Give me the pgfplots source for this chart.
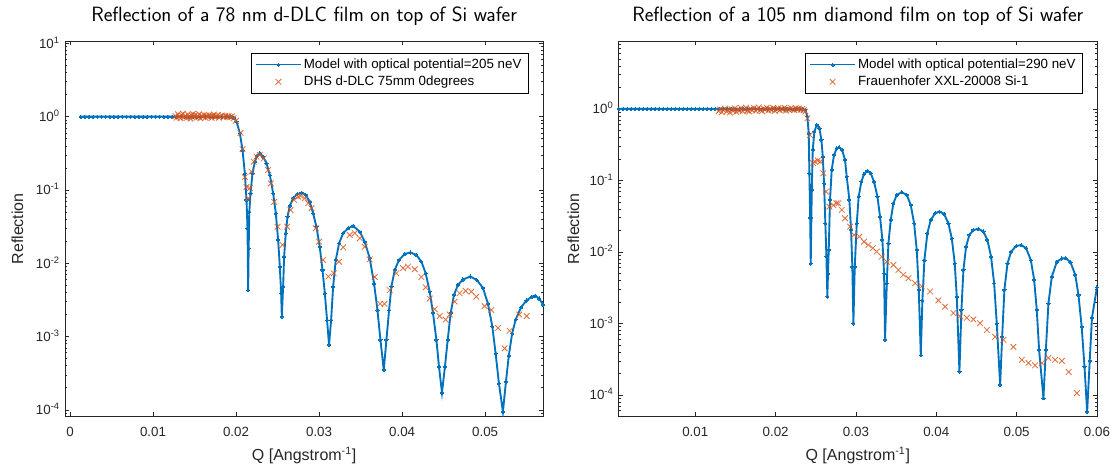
\documentclass[border=0pt]{standalone}
\usepackage{fontspec}
\setmainfont{Liberation Sans}
\usepackage{pgfplots}
\pgfplotsset{compat=1.18}

\definecolor{mblue}{HTML}{0072BD}
\definecolor{morange}{HTML}{D95319}
\definecolor{axgray}{rgb}{0.15,0.15,0.15}

% model curves: left = d-DLC film, right = diamond film
\pgfplotstableread{
x y
0.0013 1
0.0018 1
0.0023 1
0.0028 1
0.0033 1
0.0038 1
0.0043 1
0.0048 1
0.0053 1
0.0058 1
0.0063 1
0.0068 1
0.0073 1
0.0078 1
0.0083 1
0.0088 1
0.0093 1
0.0098 1
0.0103 1
0.0108 1
0.0113 1
0.0118 1
0.0123 1
0.0128 1
0.0133 1
0.0138 1
0.0143 1
0.0148 1
0.0153 1
0.0158 1
0.0163 1
0.0168 1
0.0173 1
0.0178 1
0.0183 1
0.0188 1
0.0193 1
0.01975 0.97
0.02006 0.855
0.02046 0.594
0.02078 0.35
0.02106 0.169
0.02126 0.073
0.02138 0.03
0.02146 0.0043
0.02152 0.016
0.0216 0.05
0.02174 0.09
0.02198 0.169
0.02226 0.243
0.02254 0.294
0.02286 0.317
0.02326 0.285
0.02367 0.231
0.02407 0.160
0.02447 0.090
0.02479 0.048
0.02507 0.0208
0.02527 0.009
0.02543 0.0039
0.02551 0.00187
0.02567 0.0048
0.02579 0.0123
0.02599 0.0257
0.0262 0.0432
0.02647 0.0605
0.02687 0.077
0.02735 0.0873
0.02788 0.092
0.0284 0.0854
0.02888 0.069
0.02928 0.048
0.02968 0.0316
0.03008 0.0168
0.03041 0.0081
0.03069 0.0039
0.03096 0.00168
0.0312 0.00077
0.03145 0.00168
0.03169 0.0048
0.03201 0.0111
0.03241 0.0187
0.0329 0.0257
0.0335 0.030
0.0341 0.0323
0.0349 0.027
0.0355 0.0197
0.0361 0.0117
0.03662 0.0053
0.03703 0.0023
0.03739 0.0009
0.03779 0.00035
0.03811 0.0009
0.03843 0.0023
0.03871 0.0048
0.03911 0.0081
0.03963 0.0111
0.04031 0.0134
0.041 0.014
0.04172 0.013
0.04232 0.0105
0.04284 0.0073
0.04332 0.0041
0.04372 0.0021
0.04413 0.0009
0.04444 0.00039
0.0448 0.000172
0.04516 0.00039
0.04549 0.0009
0.04585 0.0021
0.04625 0.0037
0.04673 0.0051
0.04733 0.006
0.04822 0.0066
0.04901 0.0059
0.04974 0.0046
0.05034 0.0028
0.05087 0.00136
0.05126 0.00059
0.05166 0.00023
0.05214 0.000094
0.0525 0.00024
0.05285 0.00055
0.05325 0.0011
0.05367 0.0017
0.05432 0.0025
0.05497 0.0031
0.05561 0.0035
0.05604 0.0036
0.0565 0.0033
0.0570 0.0027
}\modelDLC

\pgfplotstableread{
x y
0.0127 1.02
0.01285 0.97
0.0130 1.08
0.01315 1.00
0.0133 0.95
0.01345 1.05
0.0136 1.10
0.01375 0.98
0.0139 1.03
0.01405 0.96
0.0142 1.07
0.01435 1.01
0.0145 0.94
0.01465 1.04
0.0148 1.09
0.01495 0.99
0.0151 1.06
0.01525 0.97
0.0154 1.02
0.01555 1.08
0.0157 0.95
0.01585 1.03
0.0160 1.00
0.01615 1.06
0.0163 0.97
0.01645 1.04
0.0166 0.99
0.01675 1.05
0.0169 1.01
0.01705 0.96
0.0172 1.03
0.01735 1.07
0.0175 0.98
0.01765 1.02
0.0178 1.05
0.01795 0.97
0.0181 1.01
0.0183 1.04
0.0185 0.98
0.0187 1.03
0.0189 1.00
0.0191 1.02
0.0193 0.98
0.0195 1.01
0.0197 0.95
0.0200 0.88
0.02054 0.60
0.02078 0.36
0.02106 0.15
0.02126 0.11
0.02146 0.077
0.02166 0.106
0.02186 0.178
0.02214 0.243
0.02246 0.285
0.02286 0.30
0.02334 0.27
0.02386 0.187
0.02419 0.123
0.02459 0.069
0.0250 0.0316
0.0256 0.0178
0.02615 0.0316
0.02656 0.0533
0.02699 0.073
0.02748 0.081
0.02776 0.083
0.02828 0.077
0.02868 0.066
0.02908 0.0563
0.0296 0.030
0.0300 0.0197
0.03047 0.0111
0.03112 0.0066
0.03176 0.0073
0.0324 0.0105
0.0329 0.0165
0.0337 0.0243
0.0343 0.0257
0.0349 0.0220
0.0355 0.0168
0.0361 0.0113
0.0367 0.0065
0.03735 0.0028
0.03787 0.0028
0.03851 0.0043
0.03931 0.0073
0.04011 0.0086
0.04071 0.0090
0.04152 0.0083
0.04232 0.0065
0.04284 0.0047
0.04332 0.0033
0.04392 0.00236
0.04452 0.0019
0.04525 0.0017
0.04573 0.0020
0.04633 0.0030
0.04693 0.0039
0.04765 0.0042
0.04834 0.0041
0.04894 0.0035
0.04994 0.0026
0.05074 0.0023
0.05154 0.00131
0.05235 0.00069
0.05295 0.0012
0.0541 0.0020
0.0550 0.0019
}\dataDLC

\pgfplotstableread{
x y
0.0005 1
0.0010 1
0.0015 1
0.0020 1
0.0025 1
0.0030 1
0.0035 1
0.0040 1
0.0045 1
0.0050 1
0.0055 1
0.0060 1
0.0065 1
0.0070 1
0.0075 1
0.0080 1
0.0085 1
0.0090 1
0.0095 1
0.0100 1
0.0105 1
0.0110 1
0.0115 1
0.0120 1
0.0125 1
0.0130 1
0.0135 1
0.0140 1
0.0145 1
0.0150 1
0.0155 1
0.0160 1
0.0165 1
0.0170 1
0.0175 1
0.0180 1
0.0185 1
0.0190 1
0.0195 1
0.0200 1
0.0205 1
0.0210 1
0.0215 1
0.0220 1
0.0225 1
0.0230 1
0.0234 0.99
0.0237 0.97
0.02395 0.78
0.02412 0.457
0.0242 0.126
0.0243 0.03
0.02437 0.0069
0.02445 0.03
0.0245 0.0736
0.02462 0.267
0.02482 0.48
0.02512 0.598
0.02545 0.537
0.0257 0.368
0.02587 0.215
0.02603 0.091
0.02619 0.025
0.02632 0.0086
0.02644 0.00237
0.02652 0.005
0.02661 0.0107
0.02677 0.0534
0.02698 0.14
0.02727 0.227
0.02761 0.282
0.0279 0.291
0.02827 0.267
0.02864 0.194
0.02885 0.113
0.02918 0.0534
0.02939 0.0203
0.02955 0.0062
0.02968 0.001
0.02985 0.0062
0.0301 0.025
0.03034 0.0594
0.03067 0.096
0.031 0.123
0.03142 0.136
0.03184 0.126
0.03225 0.096
0.03267 0.0594
0.033 0.0312
0.03329 0.0147
0.0335 0.005
0.03362 0.00059
0.03384 0.00365
0.03404 0.0132
0.03433 0.028
0.03466 0.048
0.03508 0.0627
0.0357 0.0684
0.03633 0.0627
0.03682 0.0454
0.03724 0.025
0.03757 0.0107
0.03782 0.00294
0.03807 0.00036
0.03827 0.0021
0.03852 0.0077
0.03889 0.0183
0.03931 0.028
0.03985 0.0348
0.04039 0.0366
0.04097 0.034
0.04151 0.025
0.04193 0.0155
0.0423 0.0069
0.04255 0.00237
0.04288 0.000212
0.04313 0.00155
0.04338 0.0056
0.04371 0.0119
0.04412 0.0173
0.04462 0.0203
0.04524 0.021
0.04587 0.0193
0.04636 0.0147
0.04682 0.0086
0.0472 0.00365
0.04753 0.001
0.04795 0.000138
0.0482 0.00065
0.04848 0.00294
0.04886 0.0069
0.04932 0.0101
0.04994 0.0121
0.05056 0.0125
0.05118 0.0113
0.05177 0.0077
0.05218 0.0041
0.05251 0.00155
0.0528 0.000426
0.05334 0.00009
0.05364 0.000426
0.05396 0.0019
0.05438 0.0045
0.05501 0.0073
0.05563 0.0081
0.0561 0.0082
0.0567 0.0072
0.0573 0.0048
0.0577 0.0025
0.0581 0.0009
0.05845 0.00025
0.05878 0.000058
0.0591 0.0003
0.05938 0.0012
0.0600 0.0032
}\modelDiamond

\pgfplotstableread{
x y
0.0129 0.93
0.0131 0.98
0.0133 0.90
0.0135 0.96
0.0137 1.01
0.0139 0.92
0.0141 0.97
0.0143 0.89
0.0145 0.99
0.0147 0.94
0.0149 1.02
0.0151 0.91
0.0153 0.97
0.0155 0.95
0.0157 1.03
0.0159 0.93
0.0161 0.98
0.0163 1.04
0.0165 0.95
0.0167 0.92
0.0169 1.00
0.0171 0.96
0.0173 1.03
0.0175 0.94
0.0177 0.99
0.0179 1.05
0.0181 0.97
0.0183 0.93
0.0185 1.01
0.0187 0.98
0.0189 1.04
0.0191 0.95
0.0193 1.00
0.0195 0.97
0.0197 1.03
0.0199 0.94
0.0201 0.99
0.0203 1.02
0.0205 0.96
0.0207 1.01
0.0209 0.98
0.0211 1.04
0.0213 0.95
0.0215 1.00
0.0217 0.97
0.0219 1.03
0.0221 0.99
0.0223 0.96
0.0225 1.02
0.0227 0.98
0.0229 1.01
0.0231 0.97
0.0233 1.00
0.0235 0.96
0.0237 0.92
0.02395 0.74
0.02428 0.43
0.02467 0.174
0.0249 0.183
0.02525 0.19
0.02557 0.183
0.02594 0.126
0.02628 0.070
0.02669 0.043
0.02719 0.045
0.02757 0.048
0.02781 0.048
0.02823 0.0387
0.02864 0.0296
0.02927 0.0226
0.02976 0.0173
0.03043 0.0164
0.0310 0.0139
0.03155 0.0125
0.03209 0.0113
0.03259 0.0101
0.03321 0.0086
0.03384 0.0073
0.03466 0.0066
0.03528 0.0056
0.0359 0.0048
0.03653 0.0043
0.03736 0.00365
0.03819 0.0033
0.03923 0.0028
0.04026 0.0021
0.0411 0.00172
0.04213 0.0014
0.04296 0.00126
0.0438 0.0012
0.04462 0.00114
0.04545 0.00101
0.04629 0.00081
0.04732 0.00065
0.04836 0.00059
0.0496 0.00047
0.05065 0.00031
0.05147 0.00028
0.0523 0.00026
0.05314 0.00028
0.05396 0.00033
0.05479 0.00031
0.05563 0.00030
0.05648 0.00021
0.0575 0.000106
}\dataDiamond

% shared look of both panels and of the two series
\pgfplotsset{
  every axis/.append style={
    scale only axis,
    width=358.7pt, height=281.8pt,
    axis line style={axgray, line width=0.5pt},
    tick style={axgray, line width=0.5pt},
    tick align=inside,
    major tick length=3.3pt,
    minor tick length=1.8pt,
    scaled x ticks=false,
    tick label style={font=\fontsize{10}{12}\selectfont, text=axgray},
    xticklabel style={anchor=base, yshift=-15pt, inner sep=0pt},
    yticklabel style={anchor=base east, inner sep=0pt, xshift=-3.75pt, yshift=-3.6pt},
    title style={font=\sffamily\fontsize{15.5}{18}\selectfont, text=black},
    label style={font=\fontsize{12}{14}\selectfont, text=axgray},
    legend style={anchor=north east, draw=black, line width=0.5pt, fill=white,
      font=\fontsize{10}{12}\selectfont, inner xsep=3pt, inner ysep=2pt},
    legend cell align=left,
  },
  modellegend/.style={legend image code/.code={%
    \draw[mark repeat=2,mark phase=2,##1,line width=0.6pt] plot coordinates {(0cm,0cm) (0.59cm,0cm) (1.18cm,0cm)};}},
  datalegend/.style={legend image code/.code={%
    \draw[draw=none] (0cm,0cm) -- (1.18cm,0cm);
    \draw[##1] plot[only marks] coordinates {(0.59cm,0cm)};}},
  modelplot/.style={color=mblue, line width=1.4pt, mark=*, mark size=1.2pt,
    mark options={solid, fill=mblue, draw=mblue, line width=0pt}, modellegend},
  dataplot/.style={color=morange, only marks, mark=x, mark size=3pt,
    mark options={line width=0.6pt, opacity=0.85}, datalegend},
}

\begin{document}
\begin{tikzpicture}
\useasboundingbox (0,0) rectangle (837pt,354pt);

\begin{axis}[
  at={(48.75pt,41.5pt)}, anchor=south west,
  ymode=log,
  xmin=-0.0006, xmax=0.057,
  ymin=8.07e-5, ymax=10.8,
  xtick={0,0.01,0.02,0.03,0.04,0.05},
  xticklabels={0,0.01,0.02,0.03,0.04,0.05},
  yticklabel={\pgfmathtruncatemacro{\ex}{round(\tick/ln(10))}10\textsuperscript{\ex}},
  title={Reflection of a 78 nm d-DLC film on top of Si wafer},
  title style={at={(0.5,1)}, anchor=base, yshift=8.5pt},
  xlabel={Q [Angstrom\textsuperscript{-1}]},
  xlabel style={at={(axis description cs:0.5,0)}, anchor=base, yshift=-33pt},
  ylabel={Reflection},
  ylabel style={at={(axis description cs:-0.0874,0.5)}, rotate=0, anchor=base},
  legend style={at={(0.969,0.967)}},
]
\addplot[modelplot] table[x=x,y=y] {\modelDLC};
\addlegendentry{Model with optical potential=205 neV}
\addplot[dataplot] table[x=x,y=y] {\dataDLC};
\addlegendentry{DHS d-DLC 75mm 0degrees}
\end{axis}

\begin{axis}[
  at={(464pt,41.5pt)}, anchor=south west,
  ymode=log,
  xmin=0.00046, xmax=0.06,
  ymin=4.97e-5, ymax=8.93,
  xtick={0.01,0.02,0.03,0.04,0.05,0.06},
  xticklabels={0.01,0.02,0.03,0.04,0.05,0.06},
  yticklabel={\pgfmathtruncatemacro{\ex}{round(\tick/ln(10))}10\textsuperscript{\ex}},
  title={Reflection of a 105 nm diamond film on top of Si wafer},
  title style={at={(0.5,1)}, anchor=base, yshift=8.5pt},
  xlabel={Q [Angstrom\textsuperscript{-1}]},
  xlabel style={at={(axis description cs:0.5,0)}, anchor=base, yshift=-33pt},
  ylabel={Reflection},
  ylabel style={at={(axis description cs:-0.0826,0.5)}, rotate=0, anchor=base},
  legend style={at={(0.970,0.967)}},
]
\addplot[modelplot] table[x=x,y=y] {\modelDiamond};
\addlegendentry{Model with optical potential=290 neV}
\addplot[dataplot] table[x=x,y=y] {\dataDiamond};
\addlegendentry{Frauenhofer XXL-20008 Si-1}
\end{axis}
\end{tikzpicture}
\end{document}
